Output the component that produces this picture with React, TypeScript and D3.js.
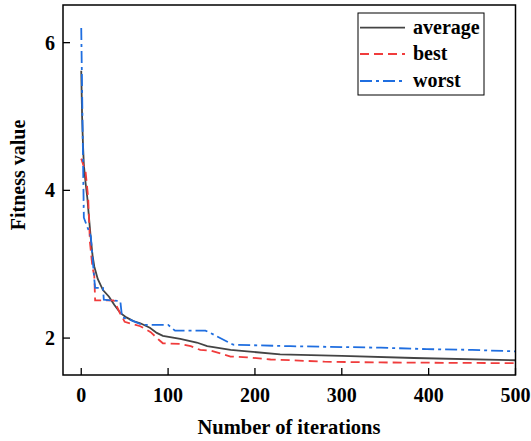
import React from "react";
import * as d3 from "d3";

const W = 531;
const H = 441;

const avgIter = [0, 1, 2, 3, 5, 7, 9, 11, 13, 15, 19, 25, 32, 38, 45, 52, 60, 68, 79, 87, 94, 114, 133, 145, 172, 191, 229, 300, 383, 500];
const avgVal = [5.62, 5.0, 4.62, 4.35, 4.1, 3.9, 3.62, 3.35, 3.12, 2.97, 2.8, 2.65, 2.56, 2.45, 2.34, 2.28, 2.23, 2.2, 2.14, 2.07, 2.03, 1.99, 1.94, 1.89, 1.84, 1.82, 1.78, 1.76, 1.73, 1.7];

const bestIter = [0, 5, 8, 10, 13, 15, 16, 37, 38, 45, 47, 50, 68, 80, 89, 94, 114, 126, 137, 149, 172, 191, 218, 241, 280, 345, 500];
const bestVal = [4.43, 4.25, 3.9, 3.3, 2.95, 2.85, 2.51, 2.51, 2.5, 2.33, 2.29, 2.22, 2.16, 2.08, 1.98, 1.93, 1.92, 1.89, 1.84, 1.83, 1.75, 1.74, 1.71, 1.7, 1.68, 1.67, 1.66];

const worstIter = [0, 3, 11, 15, 16, 25, 26, 45, 47, 56, 70, 100, 108, 143, 147, 175, 241, 345, 398, 450, 500];
const worstVal = [6.2, 3.63, 3.38, 2.8, 2.68, 2.68, 2.52, 2.5, 2.28, 2.25, 2.18, 2.18, 2.1, 2.1, 2.08, 1.91, 1.89, 1.87, 1.85, 1.84, 1.82];

const xTicks = [0, 100, 200, 300, 400, 500];
const yTicks = [2, 4, 6];

const seriesNames = ["average", "best", "worst"];
const seriesColors = ["#444444", "#f03c3c", "#1f6ee0"];
const seriesDash = ["none", "9,5", "12,4,3,4"];

const textStyle: React.CSSProperties = {
  fontFamily: '"Liberation Serif", "Times New Roman", Times, serif',
  fontWeight: 700,
};

export default function App() {
  const left = 63, right = 515.5, top = 5, bottom = 375;
  const x = d3.scaleLinear().domain([-21, 500]).range([left, right]);
  const y = d3.scaleLinear().domain([1.5, 6.51]).range([bottom, top]);
  const line = d3
    .line<[number, number]>()
    .x((d) => x(d[0]))
    .y((d) => y(d[1]));

  const series = [
    avgIter.map((it, i) => [it, avgVal[i]] as [number, number]),
    bestIter.map((it, i) => [it, bestVal[i]] as [number, number]),
    worstIter.map((it, i) => [it, worstVal[i]] as [number, number]),
  ];

  const tickLen = 7;

  const legX = 358, legY = 13, legW = 126, legH = 82;
  const rowY = [27.7, 54, 81];

  return (
    <svg
      width={W}
      height={H}
      style={{ position: "absolute", left: 0, top: 0, background: "#fff" }}
    >
      <rect x={0} y={0} width={W} height={H} fill="#fff" />
      <defs>
        <clipPath id="plotclip">
          <rect x={left} y={top} width={right - left} height={bottom - top} />
        </clipPath>
      </defs>
      <g clipPath="url(#plotclip)">
        {series.map((s, i) => (
          <path
            key={i}
            d={line(s) || ""}
            fill="none"
            stroke={seriesColors[i]}
            strokeWidth={1.8}
            strokeDasharray={seriesDash[i]}
          />
        ))}
      </g>
      <rect
        x={left}
        y={top}
        width={right - left}
        height={bottom - top}
        fill="none"
        stroke="#000"
        strokeWidth={1.5}
      />
      {xTicks.map((t) => (
        <g key={"x" + t}>
          <line x1={x(t)} x2={x(t)} y1={bottom} y2={bottom - tickLen} stroke="#000" strokeWidth={1.3} />
          <text x={x(t)} y={402} textAnchor="middle" fontSize={20} fill="#000" style={textStyle}>
            {t}
          </text>
        </g>
      ))}
      {yTicks.map((t) => (
        <g key={"y" + t}>
          <line x1={left} x2={left + tickLen} y1={y(t)} y2={y(t)} stroke="#000" strokeWidth={1.3} />
          <text x={55} y={y(t) + 7} textAnchor="end" fontSize={20} fill="#000" style={textStyle}>
            {t}
          </text>
        </g>
      ))}
      <text x={289} y={434} textAnchor="middle" fontSize={20.5} fill="#000" style={textStyle}>
        Number of iterations
      </text>
      <text
        transform={`translate(25,175) rotate(-90)`}
        textAnchor="middle"
        fontSize={20}
        fill="#000"
        style={textStyle}
      >
        Fitness value
      </text>
      <rect x={legX} y={legY} width={legW} height={legH} fill="#fff" stroke="#000" strokeWidth={1} />
      {seriesNames.map((n, i) => (
        <g key={n}>
          <line
            x1={legX + 2}
            x2={legX + 47}
            y1={rowY[i]}
            y2={rowY[i]}
            stroke={seriesColors[i]}
            strokeWidth={1.8}
            strokeDasharray={seriesDash[i]}
          />
          <text x={legX + 55} y={rowY[i] + 6} fontSize={20} fill="#000" style={textStyle}>
            {n}
          </text>
        </g>
      ))}
    </svg>
  );
}
